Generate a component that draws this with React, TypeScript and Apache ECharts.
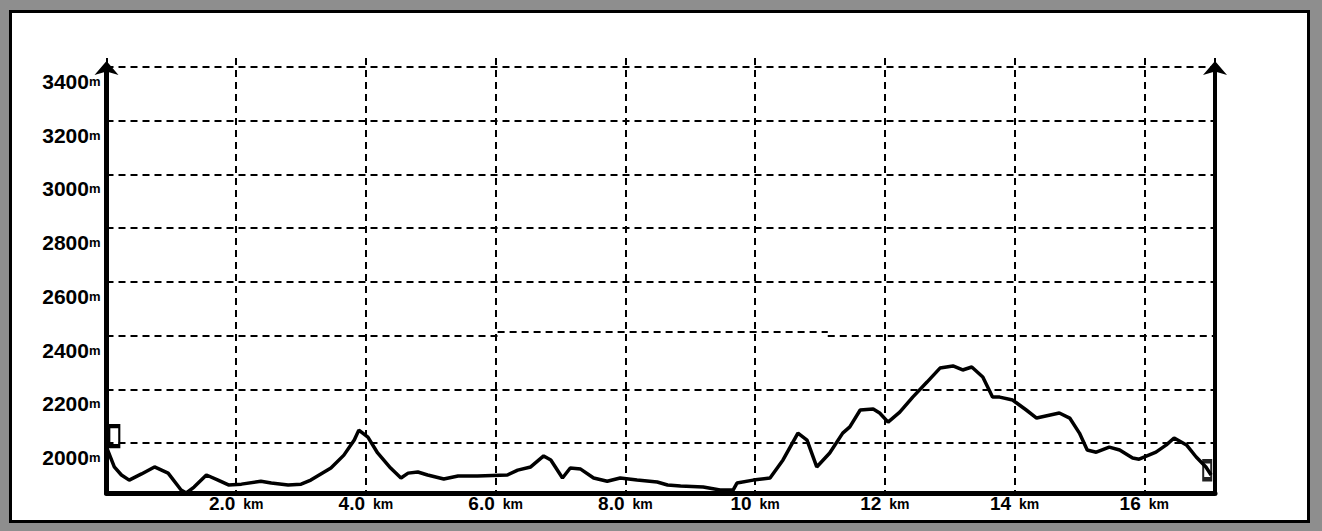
import React, { useEffect, useRef } from "react";
import * as echarts from "echarts";

// distance along the route (km) and elevation (m)
const distanceKm = [
  0.0, 0.12, 0.23, 0.35, 0.54, 0.74, 0.95, 1.15, 1.23, 1.35, 1.54, 1.72, 1.88, 2.08, 2.38, 2.54, 2.8, 3.0,
  3.15, 3.46, 3.66, 3.82, 3.89, 4.03, 4.18, 4.38, 4.54, 4.65, 4.8, 4.95, 5.2, 5.42, 5.72, 6.18, 6.34, 6.54,
  6.74, 6.85, 7.03, 7.15, 7.31, 7.51, 7.72, 7.92, 8.18, 8.49, 8.65, 8.85, 9.2, 9.46, 9.66, 9.72, 9.97, 10.23,
  10.43, 10.66, 10.8, 10.95, 11.15, 11.35, 11.46, 11.62, 11.82, 11.92, 12.05, 12.23, 12.43, 12.65, 12.85,
  13.05, 13.2, 13.34, 13.51, 13.66, 13.77, 13.97, 14.18, 14.34, 14.69, 14.85, 15.0, 15.12, 15.26, 15.46,
  15.62, 15.82, 15.92, 16.18, 16.34, 16.46, 16.65, 16.8, 16.95, 17.03,
];
const elevationM = [
  1985, 1911, 1881, 1862, 1885, 1911, 1888, 1825, 1814, 1836, 1881, 1862, 1844, 1847, 1858, 1851, 1844, 1847,
  1862, 1907, 1955, 2011, 2048, 2022, 1963, 1907, 1870, 1888, 1892, 1881, 1866, 1877, 1877, 1881, 1899, 1911,
  1952, 1937, 1870, 1907, 1903, 1870, 1858, 1870, 1862, 1855, 1844, 1840, 1836, 1825, 1825, 1851, 1862, 1870,
  1937, 2037, 2011, 1911, 1963, 2037, 2060, 2123, 2127, 2112, 2078, 2115, 2171, 2227, 2279,
  2287, 2272, 2283, 2246, 2171, 2171, 2160, 2123, 2093, 2112, 2093, 2037, 1974, 1966, 1985,
  1974, 1944, 1940, 1966, 1993, 2019, 1993, 1948, 1911, 1881,
];

const xTickValues = [2, 4, 6, 8, 10, 12, 14, 16];
const xTickLabels = ["2.0", "4.0", "6.0", "8.0", "10", "12", "14", "16"];
const yTickValues = [2000, 2200, 2400, 2600, 2800, 3000, 3200, 3400];

// start / end markers [km, m]
const startMarker = [0.12, 2026];
const endMarker = [16.97, 1899];

const X_MAX = 17.09;
const Y_MIN = 1814;
const Y_MAX = 3400;

export default function App() {
  const ref = useRef<HTMLDivElement>(null);

  useEffect(() => {
    if (!ref.current) return;
    const chart = echarts.init(ref.current, undefined, { renderer: "svg" });
    const font = "Liberation Sans";
    const dash = { color: "#000", width: 2, type: [7, 5] as any };

    const hLines: any[] = [];
    yTickValues.forEach((v) => {
      if (v === 2400) {
        hLines.push([{ coord: [0, 2400] }, { coord: [6.03, 2400] }]);
        hLines.push([{ coord: [6.03, 2413] }, { coord: [11.12, 2413] }]);
        hLines.push([{ coord: [11.12, 2400] }, { coord: [X_MAX, 2400] }]);
      } else {
        hLines.push([{ coord: [0, v] }, { coord: [X_MAX, v] }]);
      }
    });

    const option: any = {
      animation: false,
      backgroundColor: "#8e8e8e",
      graphic: [
        {
          type: "rect",
          z: -10,
          shape: { x: 10.5, y: 11.5, width: 1298, height: 510 },
          style: { fill: "#fff", stroke: "#000", lineWidth: 3 },
        },
      ],
      grid: [
        { left: 106.5, right: 107, top: 67, bottom: 38 },
        { left: 106.5, right: 107, top: 58, bottom: 38 },
      ],
      xAxis: [
        {
          type: "value",
          gridIndex: 0,
          min: 0,
          max: X_MAX,
          axisLine: { show: true, onZero: false, lineStyle: { color: "#000", width: 5 } },
          axisTick: { show: false },
          splitLine: { show: false },
          axisLabel: {
            customValues: xTickValues,
            margin: 1,
            formatter: (v: number) => {
              const i = xTickValues.indexOf(Math.round(v));
              return `{d|${i >= 0 ? xTickLabels[i] : v}}{u|km}`;
            },
            rich: {
              d: { fontFamily: font, fontWeight: "bold", fontSize: 19, color: "#000" },
              u: { fontFamily: font, fontWeight: "bold", fontSize: 14, color: "#000", padding: [0, 0, 0, 8] },
            },
          },
        },
        {
          type: "value",
          gridIndex: 1,
          min: 0,
          max: X_MAX,
          interval: 2,
          axisLine: { show: false },
          axisTick: { show: false },
          axisLabel: { show: false },
          splitLine: { show: true, lineStyle: dash },
        },
      ],
      yAxis: [
        {
          type: "value",
          gridIndex: 0,
          min: Y_MIN,
          max: Y_MAX,
          position: "left",
          axisLine: {
            show: true,
            onZero: false,
            lineStyle: { color: "#000", width: 5 },
            symbol: ["none", "arrow"],
            symbolSize: [18, 14],
            symbolOffset: [0, 6],
          },
          axisTick: { show: false },
          splitLine: { show: false },
          axisLabel: {
            customValues: yTickValues,
            margin: 6,
            verticalAlign: "top",
            padding: [4, 0, 0, 0],
            formatter: (v: number) => `{d|${v}}{u|m}`,
            rich: {
              d: { fontFamily: font, fontWeight: "bold", fontSize: 21, color: "#000" },
              u: { fontFamily: font, fontWeight: "bold", fontSize: 13, color: "#000" },
            },
          },
        },
        {
          type: "value",
          gridIndex: 0,
          min: Y_MIN,
          max: Y_MAX,
          position: "right",
          axisLine: {
            show: true,
            onZero: false,
            lineStyle: { color: "#000", width: 4 },
            symbol: ["none", "arrow"],
            symbolSize: [18, 14],
            symbolOffset: [0, 6],
          },
          axisTick: { show: false },
          axisLabel: { show: false },
          splitLine: { show: false },
        },
        {
          type: "value",
          gridIndex: 1,
          min: 0,
          max: 1,
          show: false,
        },
      ],
      series: [
        {
          type: "line",
          xAxisIndex: 0,
          yAxisIndex: 0,
          data: distanceKm.map((d, i) => [d, elevationM[i]]),
          showSymbol: false,
          symbol: "none",
          smooth: false,
          clip: false,
          lineStyle: { color: "#000", width: 3.5 },
          z: 5,
          markLine: {
            silent: true,
            symbol: ["none", "none"],
            label: { show: false },
            lineStyle: dash,
            emphasis: { disabled: true },
            data: hLines,
          },
          markPoint: {
            silent: true,
            label: { show: false },
            data: [
              {
                coord: startMarker,
                symbol: "rect",
                symbolSize: [10, 20],
                itemStyle: { color: "rgba(0,0,0,0)", borderColor: "#000", borderWidth: 3 },
              },
              {
                coord: endMarker,
                symbol: "rect",
                symbolSize: [8, 18],
                itemStyle: { color: "rgba(0,0,0,0)", borderColor: "#222", borderWidth: 3 },
              },
            ],
          },
        },
      ],
    };

    chart.setOption(option);
    return () => chart.dispose();
  }, []);

  return (
    <div
      ref={ref}
      style={{ position: "fixed", left: 0, top: 0, width: 1322, height: 531 }}
    />
  );
}
